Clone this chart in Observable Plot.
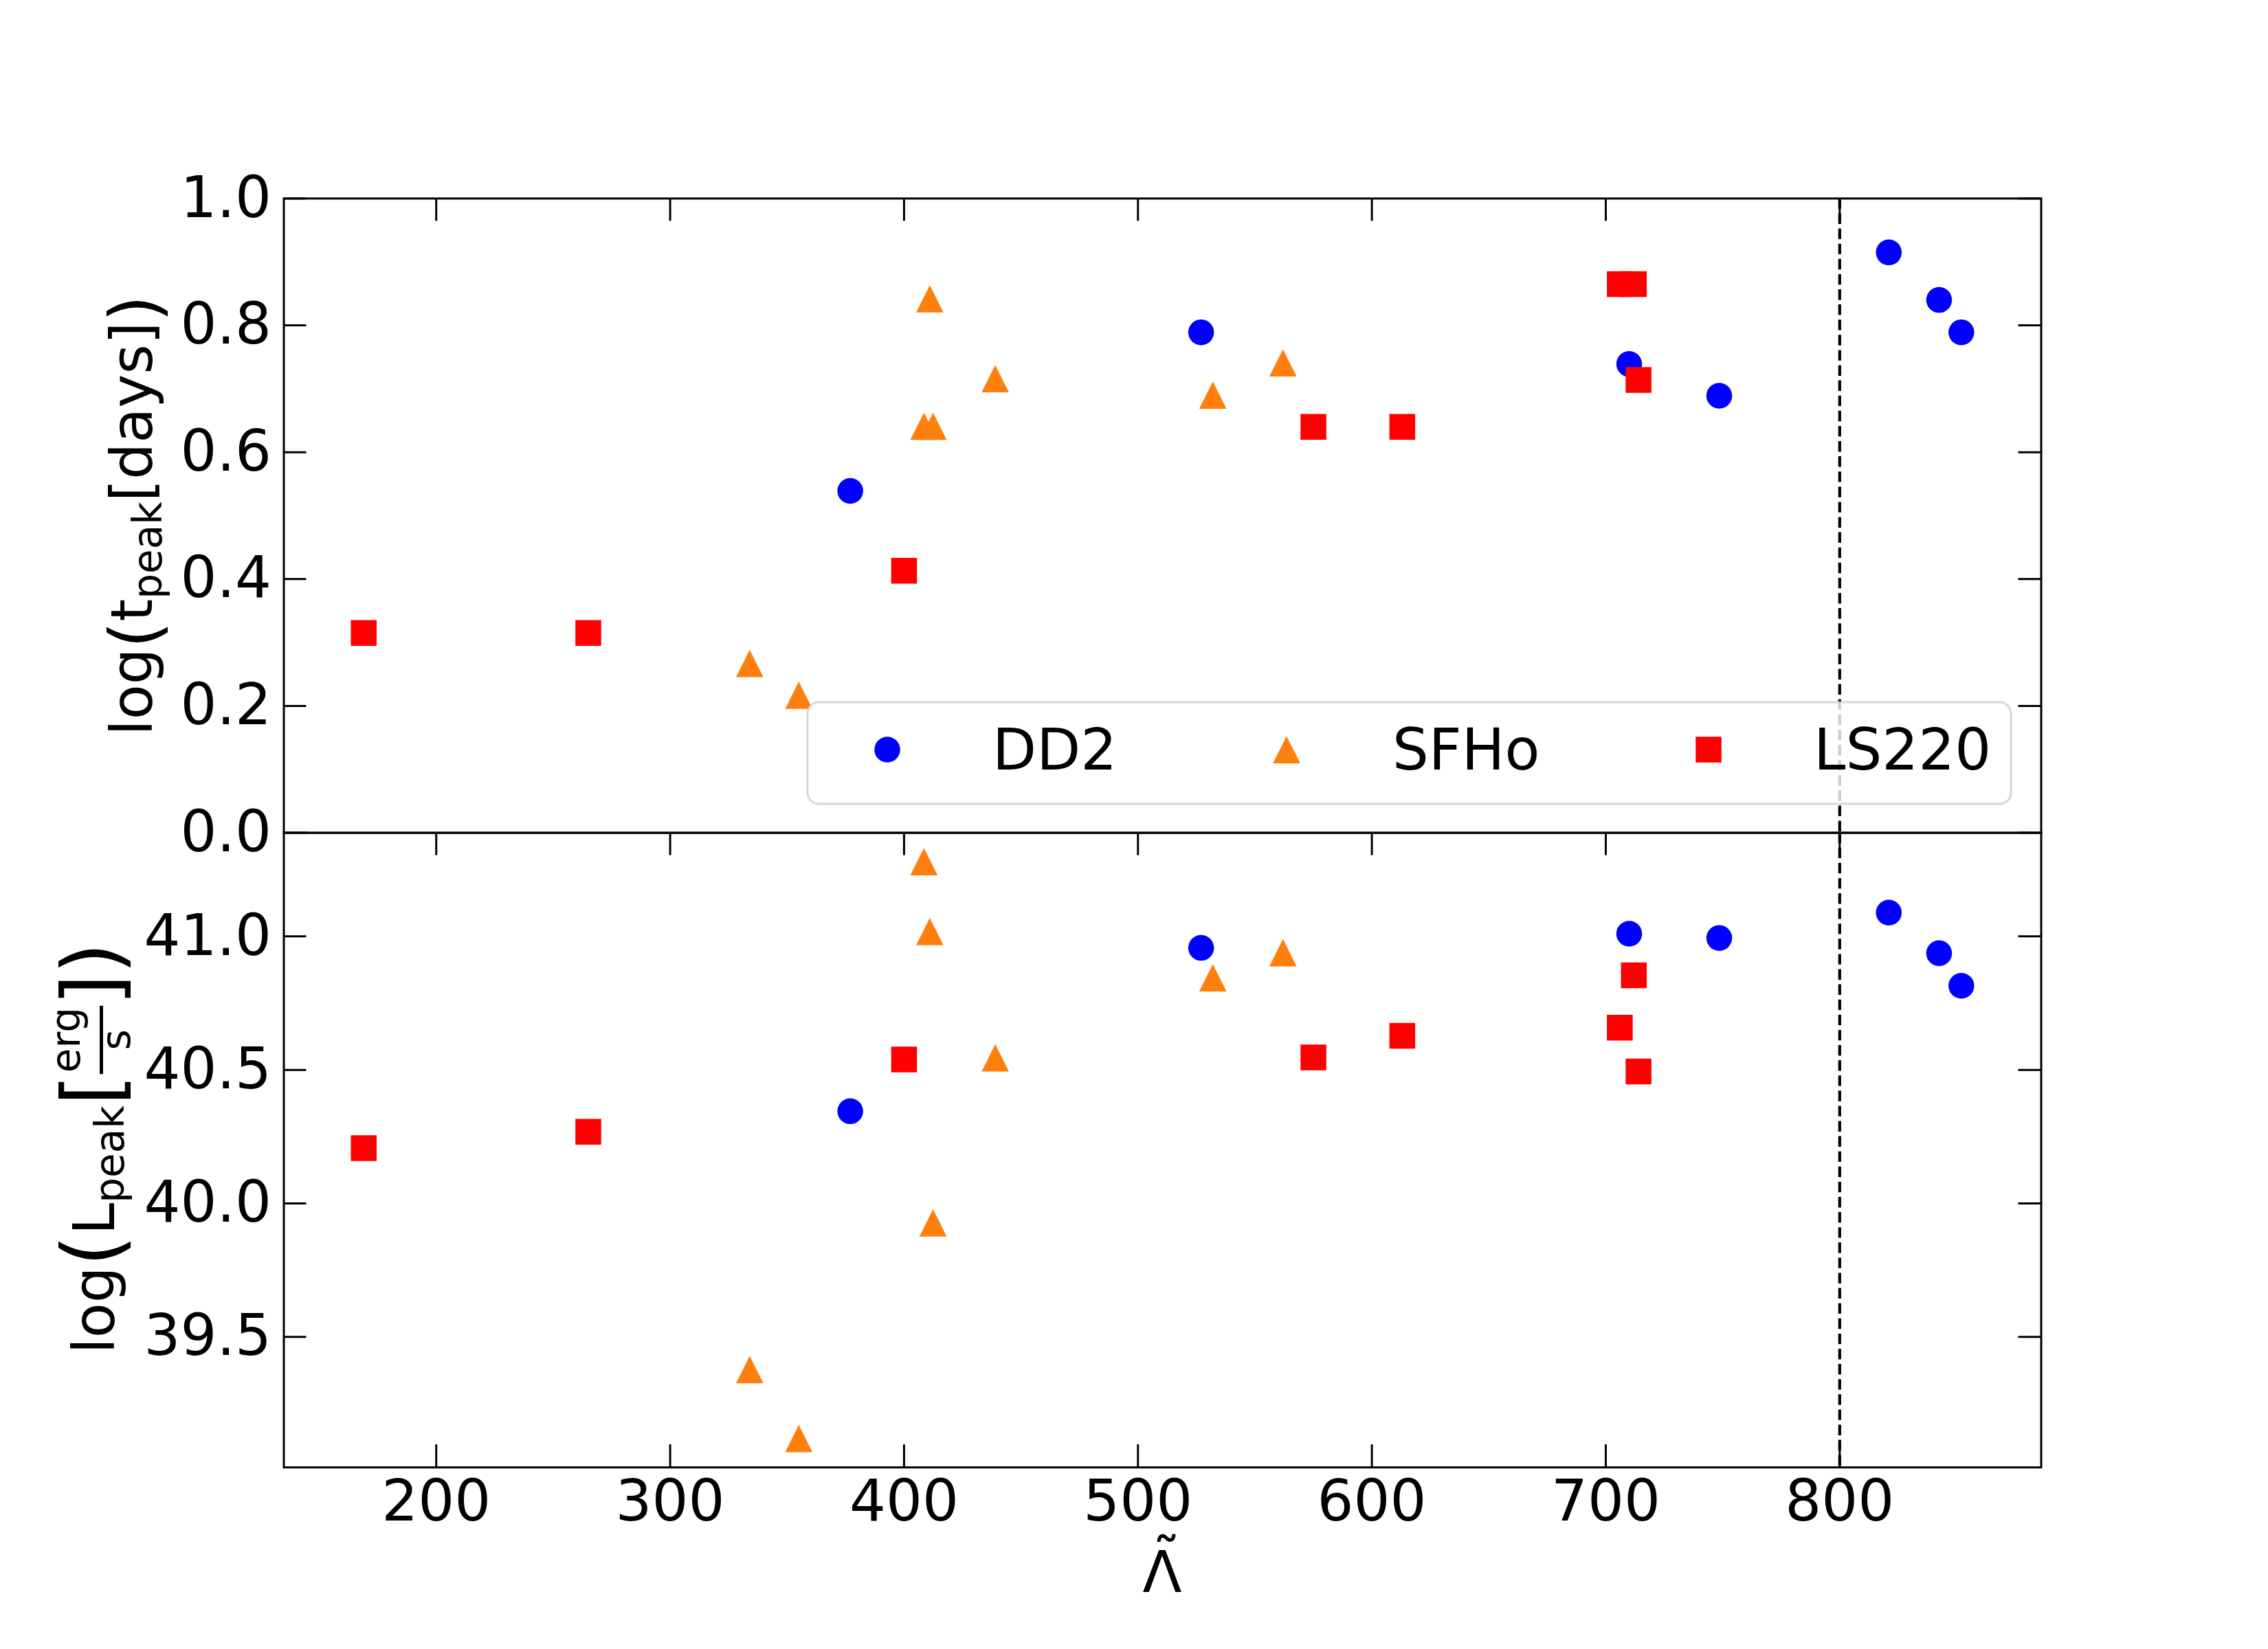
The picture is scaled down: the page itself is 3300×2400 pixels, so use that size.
<!DOCTYPE html>
<html><head><meta charset="utf-8">
<script src="https://cdn.jsdelivr.net/npm/d3@7"></script>
<script src="https://cdn.jsdelivr.net/npm/@observablehq/plot@0.6"></script>
<style>
html,body{margin:0;padding:0;background:#fff;}
#fig{position:relative;width:3300px;height:2400px;font-family:"DejaVu Sans";background:#fff;}
#fig > svg{position:absolute;left:0;top:0;}
</style></head><body><div id="fig"></div>
<script>
// ---------------- data ----------------
const series = ["DD2", "SFHo", "LS220"];
const seriesColors = ["#0000ff", "#ff7f0e", "#ff0000"];

const dd2Lambda = [377, 527, 710, 748.5, 821, 842.5, 852];
const dd2LogT   = [0.539, 0.789, 0.739, 0.689, 0.915, 0.840, 0.789];
const dd2LogL   = [40.345, 40.957, 41.010, 40.994, 41.089, 40.937, 40.815];

const sfhoLambda = [334, 355, 408.5, 411, 412.4, 439, 532, 562];
const sfhoLogT   = [0.267, 0.217, 0.641, 0.842, 0.641, 0.716, 0.690, 0.741];
const sfhoLogL   = [39.377, 39.119, 41.280, 41.018, 39.927, 40.545, 40.845, 40.939];

const ls220Lambda = [169, 265, 400, 575, 613, 706, 712, 714];
const ls220LogT   = [0.315, 0.315, 0.413, 0.640, 0.640, 0.865, 0.865, 0.714];
const ls220LogL   = [40.207, 40.268, 40.539, 40.547, 40.628, 40.658, 40.854, 40.494];

const xTicks = [200, 300, 400, 500, 600, 700, 800];
const tTicks = [0.0, 0.2, 0.4, 0.6, 0.8, 1.0];
const lTicks = [39.5, 40.0, 40.5, 41.0];
const xDomain = [134.85, 886.15];
const tDomain = [0, 1];
const lDomain = [39.011, 41.388];
const dividerLambda = [800];

// ---------------- layout ----------------
const W = 3300, H = 2400;
const frameLeft = 412.5, frameRight = 2969.5, frameTop = 288.4, frameMid = 1211.6, frameBottom = 2135.2;
const tickLen = 33, lineW = 3, fontSize = 83.3, markR = 18.75;

// matplotlib-like symbols
const symSquare = {draw(ctx, size) { const r = Math.sqrt(size / Math.PI); ctx.rect(-r, -r, 2 * r, 2 * r); }};
const symTriangle = {draw(ctx, size) { const r = Math.sqrt(size / Math.PI) * 1.06; ctx.moveTo(0, -r); ctx.lineTo(r, r); ctx.lineTo(-r, r); ctx.closePath(); }};
const seriesSymbols = [d3.symbolCircle, symTriangle, symSquare];

const lambdas = [dd2Lambda, sfhoLambda, ls220Lambda];
const logTs = [dd2LogT, sfhoLogT, ls220LogT];
const logLs = [dd2LogL, sfhoLogL, ls220LogL];
const rowsBySeries = series.map((s, k) => lambdas[k].map((lam, i) => ({eos: s, lambda: lam, logT: logTs[k][i], logL: logLs[k][i]})));

function panel(o) {
  const fw = frameRight - frameLeft, fh = o.bottom - o.top;
  const marks = [
    Plot.ruleX(dividerLambda, {x: d => d, stroke: "#000", strokeWidth: 4.2, strokeDasharray: "15.4,6.7"}),
    Plot.tickY(o.yTicks, {y: d => d, stroke: "#000", strokeWidth: lineW, insetRight: fw - tickLen}),
    Plot.tickY(o.yTicks, {y: d => d, stroke: "#000", strokeWidth: lineW, insetLeft: fw - tickLen}),
    Plot.tickX(xTicks, {x: d => d, stroke: "#000", strokeWidth: lineW, insetBottom: fh - tickLen})
  ];
  if (o.bottomTicks) marks.push(Plot.tickX(xTicks, {x: d => d, stroke: "#000", strokeWidth: lineW, insetTop: fh - tickLen}));
  marks.push(Plot.axisY(o.yTicks, {anchor: "left", tickSize: 0, tickPadding: 18, tickFormat: d3.format(".1f"), label: null, fill: "#000"}));
  if (o.xLabels) marks.push(Plot.axisX(xTicks, {anchor: "bottom", tickSize: 0, tickPadding: 18, label: null, fill: "#000"}));
  rowsBySeries.forEach((rows, k) => {
    marks.push(Plot.dot(rows, {x: "lambda", y: o.yKey, r: markR, symbol: seriesSymbols[k], fill: seriesColors[k], stroke: "none"}));
  });
  marks.push(Plot.frame({stroke: "#000", strokeWidth: lineW}));
  return Plot.plot({
    width: W, height: H,
    marginLeft: frameLeft, marginRight: W - frameRight, marginTop: o.top, marginBottom: H - o.bottom,
    style: {fontFamily: "DejaVu Sans", fontSize: fontSize + "px", background: "transparent", color: "#000"},
    x: {domain: xDomain, axis: o.xLabels ? undefined : null},
    y: {domain: o.yDomain},
    marks
  });
}

const fig = document.getElementById("fig");
fig.appendChild(panel({yKey: "logL", yDomain: lDomain, yTicks: lTicks, top: frameMid, bottom: frameBottom, bottomTicks: true, xLabels: true}));
fig.appendChild(panel({yKey: "logT", yDomain: tDomain, yTicks: tTicks, top: frameTop, bottom: frameMid, bottomTicks: false, xLabels: false}));

// ---------------- overlay: legend + axis labels ----------------
const ov = d3.select(fig).append("svg").attr("width", W).attr("height", H)
  .style("font-family", "DejaVu Sans").style("pointer-events", "none");

// legend
const lg = {x: 1175, y: 1022, w: 1751, h: 148, markerX: [1291, 1872, 2486], textX: [1444, 2026, 2639], cy: 1091};
ov.append("rect").attr("x", lg.x).attr("y", lg.y).attr("width", lg.w).attr("height", lg.h).attr("rx", 16)
  .attr("fill", "#fff").attr("fill-opacity", 0.8).attr("stroke", "#cccccc").attr("stroke-opacity", 0.8).attr("stroke-width", 3);
series.forEach((s, k) => {
  ov.append("path").attr("transform", `translate(${lg.markerX[k]},${lg.cy})`)
    .attr("d", d3.symbol(seriesSymbols[k], Math.PI * markR * markR)()).attr("fill", seriesColors[k]);
  ov.append("text").attr("x", lg.textX[k]).attr("y", lg.cy + 29).attr("font-size", fontSize).attr("fill", "#000").text(s);
});

// rotated math-like label
function mathLabel(bx, cy, pieces) {
  const g = ov.append("g").attr("transform", `translate(${bx},${cy}) rotate(-90)`);
  const inner = g.append("g");
  let cur = 0;
  for (const p of pieces) {
    if (p.gap) { cur += p.gap; continue; }
    if (p.num) {
      const tn = inner.append("text").attr("font-size", p.size).attr("y", p.numDy).text(p.num);
      const td = inner.append("text").attr("font-size", p.size).attr("y", p.denDy).text(p.den);
      const wn = tn.node().getComputedTextLength(), wd = td.node().getComputedTextLength();
      const wb = Math.max(wn, wd) + 2 * p.pad;
      tn.attr("x", cur + (wb - wn) / 2);
      td.attr("x", cur + (wb - wd) / 2);
      inner.append("rect").attr("x", cur).attr("y", p.barDy - 2.5).attr("width", wb).attr("height", 5).attr("fill", "#000");
      cur += wb;
      continue;
    }
    const t = inner.append("text").attr("font-size", p.size).attr("x", cur).attr("y", p.dy || 0).text(p.t);
    cur += t.node().getComputedTextLength();
  }
  inner.attr("transform", `translate(${-cur / 2},0)`);
}

mathLabel(221, 750, [
  {t: "log", size: fontSize},
  {t: "(", size: 100, dy: 10},
  {t: "t", size: fontSize},
  {t: "peak", size: 58, dy: 14},
  {t: "[days]", size: fontSize},
  {t: ")", size: 100, dy: 10}
]);

mathLabel(166, 1671, [
  {t: "log", size: fontSize},
  {t: "(", size: 118, dy: 9},
  {t: "L", size: fontSize},
  {t: "peak", size: 58, dy: 14},
  {t: "[", size: 118, dy: 9},
  {num: "erg", den: "s", size: 58, numDy: -50, denDy: 23, barDy: -18.5, pad: 2},
  {t: "]", size: 118, dy: 9},
  {t: ")", size: 118, dy: 9}
]);

// x label: Lambda with tilde accent, as one text element
const xc = (frameLeft + frameRight) / 2;
const xl = ov.append("text").attr("font-size", fontSize).attr("fill", "#000").attr("text-anchor", "middle");
xl.append("tspan").attr("x", xc).attr("y", 2317).text("\u039B");
xl.append("tspan").attr("x", xc + 6).attr("y", 2298).text("\u02DC");
</script></body></html>
